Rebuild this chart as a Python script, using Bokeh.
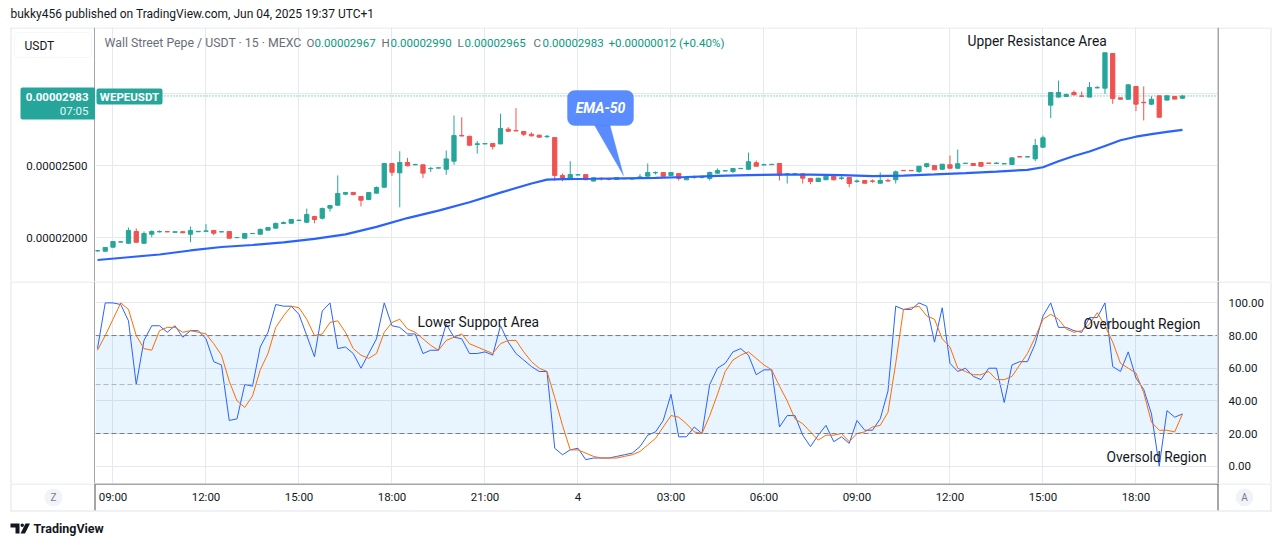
from bokeh.plotting import figure
from bokeh.layouts import column, row
from bokeh.models import (ColumnDataSource, FixedTicker, Span, BoxAnnotation, Label,
                          PolyAnnotation, Arrow, Grid, Range1d)
from bokeh.core.properties import value
from bokeh.embed import file_html
from bokeh.resources import INLINE

# ---------------- data (prices in units of 1e-8 USDT) ----------------
bar_index = list(range(141))  # 15-min bars, 03 Jun 08:30 -> 04 Jun 19:30

opens = [1906, 1905, 1933, 1968, 1960, 2042, 1960, 2023, 2039, 2041,
         2036, 2040, 2023, 2040, 2043, 2049, 2039, 2042, 1999, 1995,
         2027, 2023, 2051, 2065, 2097, 2099, 2118, 2106, 2146, 2134,
         2204, 2224, 2301, 2313, 2285, 2264, 2308, 2349, 2514, 2449,
         2521, 2505, 2505, 2478, 2482, 2474, 2530, 2708, 2703, 2646,
         2650, 2653, 2650, 2752, 2743, 2736, 2717, 2710, 2700, 2694,
         2431, 2412, 2434, 2437, 2392, 2411, 2408, 2403, 2410, 2406,
         2417, 2426, 2449, 2451, 2431, 2444, 2401, 2417, 2417, 2410,
         2447, 2462, 2458, 2478, 2474, 2519, 2504, 2506, 2514, 2441,
         2441, 2442, 2410, 2389, 2401, 2426, 2410, 2417, 2389, 2396,
         2393, 2377, 2396, 2401, 2466, 2466, 2458, 2493, 2500, 2474,
         2505, 2481, 2514, 2514, 2521, 2517, 2514, 2511, 2507, 2561,
         2559, 2546, 2627, 2919, 2975, 2979, 3007, 2983, 2975, 3039,
         3037, 3278, 2970, 2960, 3049, 2939, 2926, 2984, 2954, 2979,
         2967]
highs = [1912, 1932, 1973, 1972, 2069, 2063, 2042, 2049, 2049, 2042,
         2041, 2045, 2076, 2046, 2093, 2052, 2041, 2043, 2001, 2028,
         2029, 2063, 2070, 2104, 2111, 2125, 2125, 2201, 2150, 2208,
         2225, 2431, 2315, 2316, 2288, 2315, 2354, 2516, 2516, 2599,
         2553, 2512, 2507, 2490, 2486, 2604, 2847, 2835, 2706, 2670,
         2653, 2655, 2860, 2766, 2898, 2738, 2730, 2716, 2712, 2697,
         2444, 2530, 2437, 2438, 2415, 2417, 2411, 2420, 2411, 2409,
         2440, 2514, 2458, 2453, 2453, 2446, 2423, 2431, 2431, 2458,
         2479, 2465, 2482, 2481, 2590, 2535, 2512, 2512, 2516, 2443,
         2443, 2444, 2412, 2414, 2433, 2428, 2426, 2419, 2403, 2398,
         2403, 2452, 2410, 2465, 2467, 2467, 2495, 2516, 2502, 2511,
         2569, 2611, 2518, 2516, 2523, 2518, 2522, 2514, 2555, 2562,
         2561, 2685, 2708, 3009, 3090, 2999, 3021, 3014, 3079, 3053,
         3283, 3280, 2972, 3065, 3051, 3049, 2981, 2986, 2986, 2984,
         2990]
lows = [1904, 1903, 1931, 1966, 1958, 1965, 1958, 2002, 2035, 2038,
        2034, 2031, 1967, 2038, 2040, 2016, 2038, 1994, 1998, 1994,
        2026, 2022, 2050, 2063, 2095, 2098, 2116, 2099, 2099, 2125,
        2180, 2222, 2294, 2292, 2215, 2259, 2306, 2347, 2428, 2210,
        2495, 2502, 2414, 2455, 2480, 2435, 2505, 2703, 2638, 2583,
        2648, 2611, 2648, 2734, 2738, 2704, 2702, 2694, 2690, 2394,
        2391, 2410, 2433, 2399, 2389, 2396, 2396, 2400, 2408, 2405,
        2405, 2424, 2437, 2424, 2429, 2396, 2399, 2408, 2410, 2396,
        2445, 2461, 2447, 2477, 2472, 2493, 2500, 2503, 2396, 2375,
        2440, 2375, 2370, 2387, 2399, 2396, 2401, 2349, 2380, 2375,
        2380, 2375, 2390, 2375, 2464, 2464, 2449, 2484, 2468, 2472,
        2479, 2479, 2513, 2498, 2493, 2515, 2510, 2510, 2505, 2559,
        2558, 2530, 2625, 2829, 2973, 2977, 2988, 2979, 2973, 3037,
        2998, 2928, 2958, 2958, 2877, 2813, 2919, 2835, 2952, 2959,
        2965]
closes = [1910, 1931, 1972, 1970, 2049, 1967, 2028, 2042, 2042, 2039,
          2040, 2033, 2049, 2043, 2046, 2030, 2040, 1995, 2000, 2028,
          2028, 2056, 2069, 2097, 2104, 2125, 2120, 2160, 2125, 2201,
          2222, 2306, 2313, 2299, 2259, 2313, 2347, 2514, 2453, 2521,
          2498, 2507, 2447, 2480, 2484, 2546, 2708, 2705, 2641, 2651,
          2652, 2632, 2757, 2738, 2740, 2717, 2706, 2697, 2703, 2431,
          2412, 2437, 2436, 2401, 2415, 2408, 2405, 2416, 2408, 2408,
          2421, 2451, 2452, 2426, 2451, 2410, 2422, 2420, 2420, 2451,
          2465, 2464, 2479, 2480, 2526, 2495, 2506, 2508, 2433, 2442,
          2442, 2412, 2389, 2412, 2426, 2401, 2414, 2375, 2393, 2377,
          2390, 2396, 2392, 2456, 2464, 2464, 2495, 2512, 2470, 2509,
          2481, 2512, 2516, 2500, 2495, 2515, 2517, 2513, 2553, 2559,
          2561, 2639, 2692, 3007, 3007, 2993, 2991, 2981, 3042, 3041,
          3283, 2965, 2960, 3060, 2926, 2936, 2960, 2835, 2984, 2961,
          2983]

ema_index = [0, 4, 8, 12, 16, 20, 24, 28, 32, 36, 40, 44, 48, 52, 56, 58, 60, 64, 68, 72,
             76, 80, 84, 88, 92, 96, 100, 104, 108, 112, 116, 120, 122, 124, 126, 128, 130,
             132, 134, 136, 138, 140]
ema_50 = [1844, 1863, 1882, 1910, 1934, 1948, 1966, 1990, 2022, 2074, 2135, 2187, 2245, 2312,
          2375, 2402, 2406, 2408, 2411, 2414, 2420, 2428, 2433, 2437, 2437, 2433, 2426, 2430,
          2438, 2447, 2458, 2470, 2488, 2530, 2566, 2597, 2636, 2675, 2700, 2718, 2733, 2748]

stoch_k = [72, 100, 100, 99, 89, 50, 77, 86, 86, 82,
           86, 79, 83, 83, 78, 64, 62, 28, 29, 50,
           49, 73, 82, 99, 98, 98, 93, 80, 67, 95,
           100, 72, 73, 69, 60, 69, 78, 100, 86, 85,
           81, 81, 69, 71, 71, 87, 79, 78, 69, 69,
           70, 68, 86, 76, 69, 65, 61, 58, 58, 11,
           7, 10, 11, 4, 5, 5, 5, 6, 7, 8,
           12, 19, 21, 28, 44, 18, 18, 24, 20, 50,
           60, 63, 70, 72, 68, 56, 59, 59, 24, 31,
           31, 19, 12, 19, 25, 15, 18, 14, 28, 22,
           22, 29, 46, 98, 96, 96, 100, 98, 76, 97,
           63, 58, 60, 55, 53, 60, 60, 39, 62, 64,
           64, 75, 92, 100, 85, 85, 83, 82, 91, 91,
           100, 61, 58, 70, 54, 47, 32, 0, 34, 30,
           32]
stoch_d = [71, 80, 90, 100, 96, 80, 72, 71, 83, 85,
           85, 82, 83, 82, 81, 75, 68, 52, 40, 36,
           43, 59, 69, 85, 92, 98, 97, 90, 80, 81,
           88, 89, 82, 72, 68, 66, 69, 82, 88, 90,
           84, 82, 78, 74, 71, 77, 79, 81, 75, 73,
           71, 69, 75, 77, 77, 70, 64, 60, 58, 42,
           25, 10, 10, 8, 6, 5, 5, 5, 6, 7,
           9, 13, 17, 24, 31, 30, 26, 21, 20, 31,
           44, 58, 65, 68, 70, 66, 62, 59, 49, 40,
           29, 26, 21, 16, 19, 19, 20, 15, 20, 21,
           24, 25, 33, 63, 96, 97, 98, 92, 90, 78,
           73, 60, 58, 56, 56, 58, 53, 53, 55, 62,
           69, 79, 90, 93, 90, 84, 82, 83, 87, 94,
           86, 76, 63, 60, 57, 45, 27, 22, 22, 21,
           32]

time_ticks = [2, 14, 26, 38, 50, 62, 74, 86, 98, 110, 122, 134]
time_labels = ["09:00", "12:00", "15:00", "18:00", "21:00", "4",
               "03:00", "06:00", "09:00", "12:00", "15:00", "18:00"]
price_grid_ticks = [2000, 2500, 3000]
price_label_ticks = [2000, 2500]          # 3000 label is hidden behind the price tag
stoch_ticks = [0, 20, 40, 60, 80, 100]
last_price = 2983

# ---------------- style / layout constants ----------------
W, H = 1281, 546
FL, FR = 95, 1217          # plot area left/right (page px)
P_TOP, P_BOT = 27, 281     # price pane
S_BOT = 483                # stoch pane bottom
T_BOT = 510                # bottom of time-axis strip
UP, DN = "#26a69a", "#ef5350"
GRID = "#e4e9f0"
BORDER = "#e0e3eb"
DARK = "#4a4d57"
TXT = "#131722"
FONT = "Roboto"
X_START, X_END = -0.258, 144.52
P_LO, P_HI = 1694.5, 3458.3
S_LO, S_HI = -10.6, 113.1
BAR_PX = (FR - FL) / (X_END - X_START)


def mkfig(w, h, xr, yr):
    f = figure(width=w, height=h, x_range=xr, y_range=yr, output_backend="svg",
               toolbar_location=None, x_axis_location=None, y_axis_location=None, min_border=0)
    for g in f.grid:
        g.visible = False
    f.outline_line_color = None
    f.background_fill_color = "white"
    f.border_fill_color = "white"
    return f


class Deco:
    """Screen-unit helpers; (fx, fb) = page x of frame left, page y of frame bottom."""

    def __init__(self, fig, fx, fb):
        self.f, self.fx, self.fb = fig, fx, fb

    def seg(self, x0, y0, x1, y1, color, width=1):
        self.f.add_layout(Arrow(end=None, x_start=x0 - self.fx, y_start=self.fb - y0,
                                x_end=x1 - self.fx, y_end=self.fb - y1,
                                start_units="screen", end_units="screen",
                                line_color=color, line_width=width))

    def label(self, X, Y, text, size="12px", color=TXT, align="left", style="normal"):
        self.f.add_layout(Label(x=X - self.fx, y=self.fb - Y, x_units="screen", y_units="screen",
                                text=text, text_font=FONT, text_font_size=size, text_color=color,
                                text_align=align, text_baseline="middle", text_font_style=style))

    def box(self, x0, y0, x1, y1, fill, line=None, radius=0):
        self.f.add_layout(BoxAnnotation(left=x0 - self.fx, right=x1 - self.fx,
                                        top=self.fb - y0, bottom=self.fb - y1,
                                        left_units="screen", right_units="screen",
                                        top_units="screen", bottom_units="screen",
                                        fill_color=fill, fill_alpha=1, line_color=line,
                                        border_radius=radius))

    def poly(self, xs, ys, fill, line=None):
        self.f.add_layout(PolyAnnotation(xs=[x - self.fx for x in xs], ys=[self.fb - y for y in ys],
                                         xs_units="screen", ys_units="screen",
                                         fill_color=fill, fill_alpha=1, line_color=line,
                                         line_width=1))


# ---------------- header ----------------
hdr = mkfig(W, P_TOP, Range1d(0, 1), Range1d(0, 1))
d = Deco(hdr, 0, P_TOP)
d.label(10, 13, "bukky456 published on TradingView.com, Jun 04, 2025 19:37 UTC+1", "12px")

# ---------------- price pane ----------------
price_y = Range1d(P_LO, P_HI)
shared_x = Range1d(X_START, X_END)

lp = mkfig(FL, P_BOT - P_TOP, Range1d(0, FL), price_y)
d = Deco(lp, 0, P_BOT)
d.seg(10, 27.5, 95, 27.5, BORDER)
d.seg(10.5, 27, 10.5, 281, BORDER)
d.seg(94.5, 27, 94.5, 281, DARK)
d.box(14, 32, 91, 57, "white", BORDER, 4)
d.label(24, 45, "USDT", "12px")
lp.text(x=[87] * len(price_label_ticks), y=price_label_ticks,
        text=[f"{t * 1e-8:.8f}" for t in price_label_ticks],
        text_align="right", text_baseline="middle", text_font=value(FONT),
        text_font_size="11.5px", text_color=TXT)
d.box(20, 87, 95, 119, UP, None, 2)
d.label(88, 96, f"{last_price * 1e-8:.8f}", "11.5px", "white", "right", "bold")
d.label(88, 110.5, "07:05", "11.5px", "#e6f5f3", "right")

p = mkfig(FR - FL, P_BOT - P_TOP, shared_x, price_y)
p.add_layout(Grid(dimension=0, ticker=FixedTicker(ticks=time_ticks), grid_line_color=GRID))
p.add_layout(Grid(dimension=1, ticker=FixedTicker(ticks=price_grid_ticks), grid_line_color=GRID))
p.add_layout(Span(location=last_price, dimension="width", line_color=UP, line_dash="1 2",
                  line_width=1, level="underlay"))
colors = [UP if c >= o else DN for o, c in zip(opens, closes)]
src = ColumnDataSource(dict(x=bar_index, o=opens, h=highs, l=lows, c=closes,
                            top=[max(o, c) for o, c in zip(opens, closes)],
                            bottom=[min(o, c) for o, c in zip(opens, closes)],
                            color=colors))
p.segment(x0="x", y0="l", x1="x", y1="h", line_color="color", line_width=1, source=src)
p.vbar(x="x", width=0.55, top="top", bottom="bottom", fill_color="color",
       line_color="color", line_width=1, source=src)
p.line(ema_index, ema_50, line_color="#2962ff", line_width=2.2)

d = Deco(p, FL, P_BOT)
d.seg(95, 27.5, 1217, 27.5, BORDER)
d.box(96, 88, 162, 104, UP, None, 2)
d.label(129, 96, "WEPEUSDT", "11.5px", "white", "center", "bold")
d.label(104, 42, "Wall Street Pepe / USDT \u00b7 15 \u00b7 MEXC", "12.3px", "#6a6d78")
legend_parts = [(306, "O", "#6a6d78"), (314, "0.00002967", "#089981"),
                (381, "H", "#6a6d78"), (390, "0.00002990", "#089981"),
                (457, "L", "#6a6d78"), (464, "0.00002965", "#089981"),
                (533, "C", "#6a6d78"), (542, "0.00002983", "#089981"),
                (608, "+0.00000012 (+0.40%)", "#089981")]
for X, t, col in legend_parts:
    d.label(X, 42, t, "11.5px", col)
d.poly([593, 609, 623], [123, 123, 175], "#5b8cff", "#3f7be8")
d.box(567, 90, 633, 125, "#5b8cff", "#3f7be8", 7)
d.label(600, 107, "EMA-50", "14px", "white", "center", "bold italic")
d.label(967, 40, "Upper Resistance Area", "13.8px", TXT)

rp = mkfig(W - FR, P_BOT - P_TOP, Range1d(0, 1), Range1d(0, 1))
d = Deco(rp, FR, P_BOT)
d.seg(1217, 27.5, 1270, 27.5, BORDER)
d.seg(1270.5, 27, 1270.5, 281, BORDER)
d.seg(1217.5, 27, 1217.5, 281, DARK)

# ---------------- stochastic pane ----------------
stoch_y = Range1d(S_LO, S_HI)

ls = mkfig(FL, S_BOT - P_BOT, Range1d(0, 1), Range1d(0, 1))
d = Deco(ls, 0, S_BOT)
d.seg(10, 281.5, 95, 281.5, BORDER)
d.seg(10.5, 281, 10.5, 483, BORDER)
d.seg(94.5, 281, 94.5, 483, DARK)

s = mkfig(FR - FL, S_BOT - P_BOT, shared_x, stoch_y)
s.add_layout(Grid(dimension=0, ticker=FixedTicker(ticks=time_ticks), grid_line_color=GRID))
s.add_layout(Grid(dimension=1, ticker=FixedTicker(ticks=stoch_ticks), grid_line_color=GRID))
s.add_layout(BoxAnnotation(bottom=20, top=80, fill_color="#2196f3", fill_alpha=0.1,
                           line_color=None, level="underlay"))
s.add_layout(Span(location=80, dimension="width", line_color="#787b86", line_dash="5 3", line_width=1))
s.add_layout(Span(location=50, dimension="width", line_color="#b2b5be", line_dash="5 3", line_width=1))
s.add_layout(Span(location=20, dimension="width", line_color="#787b86", line_dash="5 3", line_width=1))
s.line(bar_index, stoch_k, line_color="#2962ff", line_width=1)
s.line(bar_index, stoch_d, line_color="#ff6d00", line_width=1)
d = Deco(s, FL, S_BOT)
d.seg(95, 281.5, 1217, 281.5, BORDER)
d.label(417, 321, "Lower Support Area", "13.8px", TXT)
d.label(1083, 323, "Overbought Region", "13.8px", TXT)
d.label(1106, 456, "Oversold Region", "13.8px", TXT)

rs = mkfig(W - FR, S_BOT - P_BOT, Range1d(0, W - FR), stoch_y)
rs.text(x=[11] * len(stoch_ticks), y=stoch_ticks, text=[f"{t:.2f}" for t in stoch_ticks],
        text_align="left", text_baseline="middle", text_font=value(FONT),
        text_font_size="11.5px", text_color=TXT)
d = Deco(rs, FR, S_BOT)
d.seg(1217, 281.5, 1270, 281.5, BORDER)
d.seg(1217.5, 281, 1217.5, 483, DARK)
d.seg(1270.5, 281, 1270.5, 483, BORDER)

# ---------------- time axis strip + footer ----------------
bt_x = Range1d(X_START - FL / BAR_PX, X_START + (W - FL) / BAR_PX)
bt = mkfig(W, H - S_BOT, bt_x, Range1d(H, S_BOT))
bt.text(x=time_ticks, y=[496.5] * len(time_ticks), text=time_labels,
        text_align="center", text_baseline="middle", text_font=value(FONT),
        text_font_size="11.5px", text_color=TXT)
d = Deco(bt, 0, H)
d.seg(10, 483.5, 95, 483.5, BORDER)
d.seg(95, 483.5, 1218, 483.5, DARK)
d.seg(1218, 483.5, 1270, 483.5, BORDER)
d.seg(10.5, 483, 10.5, 511, BORDER)
d.seg(1270.5, 483, 1270.5, 511, BORDER)
d.seg(94.5, 483, 94.5, 510, DARK)
d.seg(1217.5, 483, 1217.5, 510, DARK)
d.seg(10, 510.5, 1271, 510.5, BORDER)
d.box(44, 488, 62, 506, "#f0f3fa", None, 9)
d.label(53, 497, "Z", "10px", "#787b86", "center")
d.box(1235, 488, 1253, 506, "#f0f3fa", None, 9)
d.label(1244, 497, "A", "10px", "#787b86", "center")
d.poly([10, 19, 19, 15, 15, 10], [523, 523, 533, 533, 527, 527], TXT)
d.poly([25, 29.5, 24.5, 20], [523, 523, 533, 533], TXT)
d.box(20, 523, 23.5, 526.5, TXT, None, 2)
d.label(33, 528, "TradingView", "12.5px", TXT, "left", "bold")

layout = column(hdr, row(lp, p, rp, spacing=0), row(ls, s, rs, spacing=0), bt, spacing=0)
open("out.html", "w").write(file_html(layout, INLINE))
